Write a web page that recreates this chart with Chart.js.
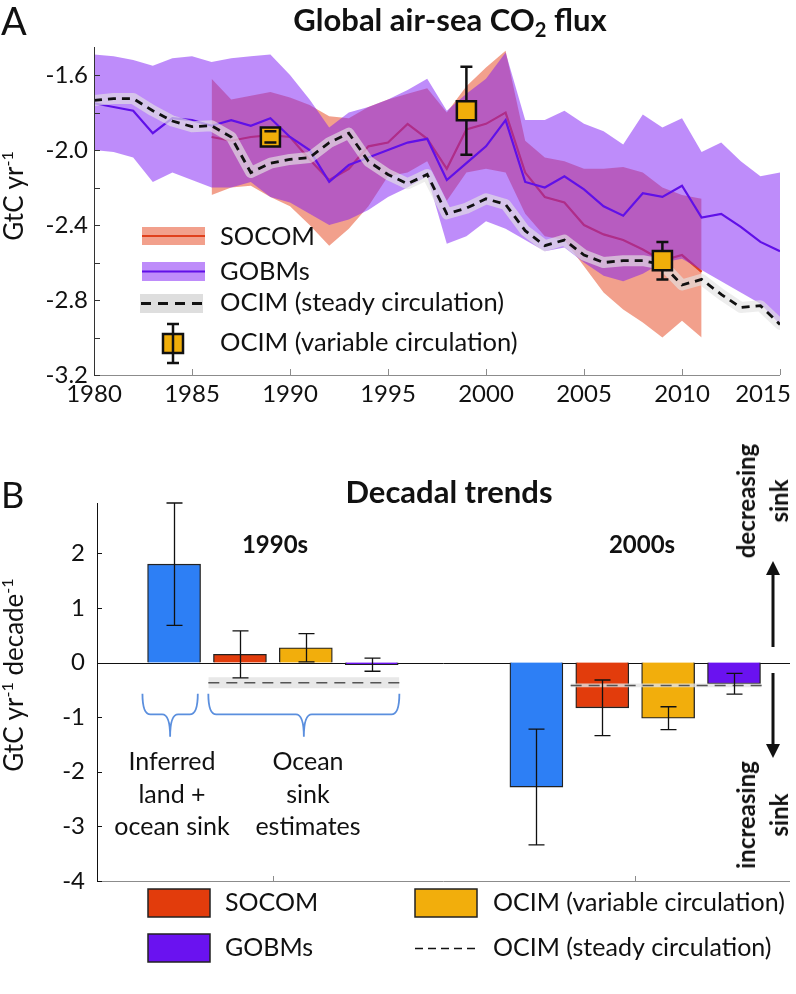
<!DOCTYPE html>
<html>
<head>
<meta charset="utf-8">
<script src="https://cdn.jsdelivr.net/npm/chart.js@4.4.1/dist/chart.umd.min.js"></script>
<style>
  html, body { margin: 0; padding: 0; background: #fff; overflow: hidden; }
  body { width: 796px; height: 994px; position: relative; font-family: Lato, "Open Sans", sans-serif; color: #111; }
  canvas { position: absolute; left: 0; }
  .t { position: absolute; white-space: nowrap; line-height: 1; }
  .rot { position: absolute; white-space: nowrap; line-height: 1; transform: translate(-50%, -50%) rotate(-90deg); }
  sub { font-size: 65%; vertical-align: -0.28em; line-height: 0; }
  sup { font-size: 62%; vertical-align: 0.6em; line-height: 0; }
</style>
</head>
<body>
<canvas id="chartA" width="796" height="410" style="top:0"></canvas>
<canvas id="chartB" width="796" height="574" style="top:420px"></canvas>

<div class="t" style="left:1px;top:1px;font-size:38px">A</div>
<div class="t" style="left:250px;width:400px;text-align:center;top:4px;font-size:31px;font-weight:bold">Global air-sea CO<sub>2</sub> flux</div>
<div class="rot" style="left:13px;top:196px;font-size:26px">GtC yr<sup>-1</sup></div>

<div class="t" style="left:1px;top:476px;font-size:36px">B</div>
<div class="t" style="left:249px;width:400px;text-align:center;top:476px;font-size:31px;font-weight:bold">Decadal trends</div>
<div class="t" style="left:175px;width:200px;text-align:center;top:532px;font-size:24px;font-weight:bold">1990s</div>
<div class="t" style="left:542px;width:200px;text-align:center;top:532px;font-size:24px;font-weight:bold">2000s</div>
<div class="rot" style="left:13px;top:675px;font-size:26px">GtC yr<sup>-1</sup> decade<sup>-1</sup></div>
<div class="rot" style="left:762px;top:501px;font-size:24px;font-weight:bold;line-height:33px;text-align:center">decreasing<br>sink</div>
<div class="rot" style="left:762px;top:815px;font-size:24px;font-weight:bold;line-height:33px;text-align:center">increasing<br>sink</div>
<div class="t" style="left:72px;width:200px;text-align:center;top:744px;font-size:25px;line-height:32.5px">Inferred<br>land +<br>ocean sink</div>
<div class="t" style="left:208px;width:200px;text-align:center;top:744px;font-size:25px;line-height:32.5px">Ocean<br>sink<br>estimates</div>

<script>
// ---------- Panel A: global air-sea CO2 flux (GtC/yr) ----------
const years = [1980, 1981, 1982, 1983, 1984, 1985, 1986, 1987, 1988, 1989,
               1990, 1991, 1992, 1993, 1994, 1995, 1996, 1997, 1998, 1999,
               2000, 2001, 2002, 2003, 2004, 2005, 2006, 2007, 2008, 2009,
               2010, 2011, 2012, 2013, 2014, 2015];
const gobmMean = [-1.75, -1.77, -1.79, -1.91, -1.83, -1.84, -1.87, -1.84, -1.87, -1.83,
                  -1.93, -2.00, -2.17, -2.08, -2.04, -2.00, -1.96, -1.94, -2.16, -2.07,
                  -1.98, -1.84, -2.17, -2.20, -2.14, -2.21, -2.30, -2.35, -2.23, -2.25,
                  -2.19, -2.36, -2.34, -2.41, -2.49, -2.54];
const gobmUpper = [-1.49, -1.50, -1.52, -1.55, -1.51, -1.50, -1.53, -1.51, -1.50, -1.49,
                   -1.60, -1.73, -1.88, -1.80, -1.77, -1.73, -1.68, -1.62, -1.79, -1.70,
                   -1.62, -1.48, -1.84, -1.84, -1.79, -1.86, -1.90, -1.97, -1.81, -1.88,
                   -1.83, -2.01, -1.96, -2.06, -2.14, -2.12];
const gobmLower = [-2.00, -2.01, -2.04, -2.17, -2.12, -2.16, -2.20, -2.20, -2.17, -2.25,
                   -2.28, -2.34, -2.40, -2.37, -2.32, -2.25, -2.20, -2.14, -2.50, -2.46,
                   -2.38, -2.42, -2.48, -2.54, -2.52, -2.60, -2.67, -2.70, -2.66, -2.60,
                   -2.58, -2.64, -2.70, -2.76, -2.82, -2.93];
const socomYears = [1986, 1987, 1988, 1989, 1990, 1991, 1992, 1993, 1994, 1995,
                    1996, 1997, 1998, 1999, 2000, 2001, 2002, 2003, 2004, 2005,
                    2006, 2007, 2008, 2009, 2010, 2011];
const socomMean = [-1.93, -1.95, -1.93, -1.92, -1.93, -2.05, -2.16, -2.10, -1.98, -1.96,
                   -1.86, -1.94, -2.10, -1.89, -1.86, -1.80, -2.12, -2.25, -2.28, -2.40,
                   -2.45, -2.48, -2.53, -2.59, -2.56, -2.65];
const socomUpper = [-1.62, -1.73, -1.71, -1.69, -1.72, -1.76, -1.82, -1.83, -1.77, -1.73,
                    -1.70, -1.67, -1.80, -1.66, -1.56, -1.47, -1.95, -2.04, -2.06, -2.10,
                    -2.10, -2.09, -2.12, -2.20, -2.24, -2.26];
const socomLower = [-2.24, -2.20, -2.19, -2.25, -2.30, -2.40, -2.51, -2.42, -2.30, -2.14,
                    -2.12, -2.06, -2.27, -2.12, -2.10, -2.12, -2.34, -2.46, -2.48, -2.62,
                    -2.76, -2.85, -2.92, -3.00, -2.91, -3.00];
const ocimSteady = [-1.735, -1.725, -1.725, -1.79, -1.845, -1.875, -1.87, -1.93, -2.12, -2.07,
                    -2.05, -2.04, -1.96, -1.91, -2.06, -2.13, -2.18, -2.13, -2.34, -2.31,
                    -2.26, -2.29, -2.43, -2.51, -2.48, -2.56, -2.60, -2.59, -2.59, -2.61,
                    -2.72, -2.69, -2.77, -2.84, -2.83, -2.93];
const ocimVarYears = [1989, 1999, 2009];
const ocimVarFlux = [-1.93, -1.79, -2.59];
const ocimVarErr = [0.03, 0.235, 0.10];
const fluxTicks = [-3.2, -3.0, -2.8, -2.6, -2.4, -2.2, -2.0, -1.8, -1.6];
const fluxLabels = [-3.2, -2.8, -2.4, -2.0, -1.6];
const yearTicks = [1980, 1985, 1990, 1995, 2000, 2005, 2010, 2015];

// ---------- Panel B: decadal trends (GtC/yr per decade) ----------
const decades = ['1990s', '2000s'];
const inferredTrend = [1.80, -2.28];
const inferredErr = [1.12, 1.06];
const socomTrend = [0.15, -0.83];
const socomErr = [0.43, 0.51];
const ocimVarTrend = [0.27, -1.02];
const ocimVarTrendErr = [0.26, 0.21];
const gobmTrend = [-0.04, -0.39];
const gobmErr = [0.12, 0.19];
const ocimSteadyTrend = [-0.37, -0.42];
const ocimSteadyErr = [0.10, 0.035];
const trendTicks = [-4, -3, -2, -1, 0, 1, 2];

const FONT = 'Lato';
const pts = (xs, ys) => xs.map((x, i) => ({ x: x, y: ys[i] }));
const clear = 'rgba(0,0,0,0)';

// inward ticks, axis lines and year labels for panel A
const axesA = {
  id: 'axesA',
  afterDraw(chart) {
    const { ctx, chartArea: a, scales: { x, y } } = chart;
    ctx.save();
    ctx.lineWidth = 1;
    ctx.strokeStyle = '#8c8c8c';
    ctx.beginPath();
    ctx.moveTo(a.left, a.bottom + 0.5); ctx.lineTo(a.right, a.bottom + 0.5);
    yearTicks.forEach(v => {
      const px = Math.round(x.getPixelForValue(v)) + 0.5;
      ctx.moveTo(px, a.bottom); ctx.lineTo(px, a.bottom - 6);
    });
    ctx.stroke();
    ctx.strokeStyle = '#333';
    ctx.beginPath();
    ctx.moveTo(a.left + 0.5, a.top); ctx.lineTo(a.left + 0.5, a.bottom);
    fluxTicks.forEach(v => {
      const py = Math.round(y.getPixelForValue(v)) + 0.5;
      ctx.moveTo(a.left, py); ctx.lineTo(a.left + 6, py);
    });
    ctx.stroke();
    ctx.fillStyle = '#111';
    ctx.font = '24px ' + FONT;
    ctx.textAlign = 'center';
    ctx.textBaseline = 'alphabetic';
    yearTicks.forEach(v => {
      const px = Math.min(x.getPixelForValue(v), chart.width - 33);
      ctx.fillText(String(v), px, 402);
    });
    ctx.restore();
  }
};

// error bars on the OCIM variable-circulation squares
const errA = {
  id: 'errA',
  afterDatasetsDraw(chart) {
    const { ctx, scales: { x, y } } = chart;
    ctx.save();
    ctx.strokeStyle = '#111';
    ctx.lineWidth = 2.5;
    ocimVarYears.forEach((yr, i) => {
      const px = x.getPixelForValue(yr);
      const c = y.getPixelForValue(ocimVarFlux[i]);
      const top = y.getPixelForValue(ocimVarFlux[i] + ocimVarErr[i]);
      const bot = y.getPixelForValue(ocimVarFlux[i] - ocimVarErr[i]);
      const h = 9.5;
      ctx.beginPath();
      if (top < c - h) { ctx.moveTo(px, top); ctx.lineTo(px, c - h); }
      if (bot > c + h) { ctx.moveTo(px, c + h); ctx.lineTo(px, bot); }
      ctx.moveTo(px - 6, top); ctx.lineTo(px + 6, top);
      ctx.moveTo(px - 6, bot); ctx.lineTo(px + 6, bot);
      ctx.stroke();
    });
    ctx.restore();
  }
};

// legend for panel A
const legendA = {
  id: 'legendA',
  afterDraw(chart) {
    const ctx = chart.ctx;
    ctx.save();
    ctx.fillStyle = 'rgba(229,65,25,0.5)';
    ctx.fillRect(142, 227, 63, 18);
    ctx.fillStyle = 'rgba(125,25,245,0.5)';
    ctx.fillRect(142, 262, 63, 19);
    ctx.fillStyle = 'rgb(222,222,222)';
    ctx.fillRect(140, 294, 63, 19);
    ctx.lineWidth = 2;
    ctx.strokeStyle = '#e0401c';
    ctx.beginPath(); ctx.moveTo(142, 236); ctx.lineTo(205, 236); ctx.stroke();
    ctx.strokeStyle = '#6010e8';
    ctx.beginPath(); ctx.moveTo(142, 271.5); ctx.lineTo(205, 271.5); ctx.stroke();
    ctx.strokeStyle = '#111';
    ctx.lineWidth = 3;
    ctx.setLineDash([10, 7]);
    ctx.beginPath(); ctx.moveTo(141, 303.5); ctx.lineTo(203, 303.5); ctx.stroke();
    ctx.setLineDash([]);
    ctx.lineWidth = 2.5;
    ctx.fillStyle = '#f0ae0a';
    ctx.fillRect(163, 334, 20, 19);
    ctx.strokeRect(163, 334, 20, 19);
    ctx.beginPath();
    ctx.moveTo(173, 324); ctx.lineTo(173, 363);
    ctx.moveTo(167, 324); ctx.lineTo(179, 324);
    ctx.moveTo(167, 363); ctx.lineTo(179, 363);
    ctx.stroke();
    ctx.fillStyle = '#111';
    ctx.font = '25.5px ' + FONT;
    ctx.textBaseline = 'alphabetic';
    ctx.fillText('SOCOM', 220, 245);
    ctx.fillText('GOBMs', 220, 280);
    ctx.fillText('OCIM (steady circulation)', 220, 311);
    ctx.fillText('OCIM (variable circulation)', 220, 351);
    ctx.restore();
  }
};

new Chart(document.getElementById('chartA'), {
  type: 'line',
  data: {
    datasets: [
      { label: 'OCIM (variable circulation)', data: pts(ocimVarYears, ocimVarFlux), showLine: false,
        pointStyle: 'rect', pointRadius: 13.5, pointBackgroundColor: '#f0ae0a',
        pointBorderColor: '#111', pointBorderWidth: 2.5, order: 0 },
      { label: 'OCIM (steady circulation)', data: pts(years, ocimSteady), borderColor: '#111',
        borderWidth: 2.8, borderDash: [8, 6], order: 1 },
      { label: 'OCIM halo', data: pts(years, ocimSteady), borderColor: 'rgba(228,228,228,0.65)',
        borderWidth: 11, borderJoinStyle: 'round', borderCapStyle: 'round', order: 2 },
      { label: 'GOBMs', data: pts(years, gobmMean), borderColor: '#6010e8', borderWidth: 2.2, order: 3 },
      { label: 'GOBMs upper', data: pts(years, gobmUpper), borderColor: clear, borderWidth: 0,
        fill: 5, backgroundColor: 'rgba(125,25,245,0.5)', order: 4 },
      { label: 'GOBMs lower', data: pts(years, gobmLower), borderColor: clear, borderWidth: 0, order: 5 },
      { label: 'SOCOM', data: pts(socomYears, socomMean), borderColor: '#e0401c', borderWidth: 2.2, order: 6 },
      { label: 'SOCOM upper', data: pts(socomYears, socomUpper), borderColor: clear, borderWidth: 0,
        fill: 8, backgroundColor: 'rgba(229,65,25,0.5)', order: 7 },
      { label: 'SOCOM lower', data: pts(socomYears, socomLower), borderColor: clear, borderWidth: 0, order: 8 }
    ]
  },
  options: {
    responsive: false,
    animation: false,
    devicePixelRatio: 1,
    layout: { padding: { left: 0, top: 47, right: 14, bottom: 0 } },
    elements: { point: { radius: 0 }, line: { tension: 0 } },
    plugins: { legend: { display: false }, tooltip: { enabled: false } },
    scales: {
      x: {
        type: 'linear', min: 1980, max: 2015,
        grid: { display: false, drawTicks: false }, border: { display: false },
        ticks: { display: false },
        afterBuildTicks: s => { s.ticks = yearTicks.map(v => ({ value: v })); },
        afterFit: s => { s.height = 35; }
      },
      y: {
        min: -3.2, max: -1.45,
        grid: { display: false, drawTicks: false }, border: { display: false },
        ticks: { padding: 6, color: '#111', font: { family: FONT, size: 24 },
                 callback: v => (fluxLabels.includes(v) ? v.toFixed(1) : '') },
        afterBuildTicks: s => { s.ticks = fluxTicks.map(v => ({ value: v })); },
        afterFit: s => { s.width = 94; }
      }
    }
  },
  plugins: [axesA, errA, legendA]
});

// ---------- Panel B ----------
const groupCenter = [2.5, 8];
const slotX = (g, k) => groupCenter[g] + k - 1.5;
const barSeries = [
  { label: 'Inferred land + ocean sink', vals: inferredTrend, err: inferredErr, color: '#2d7ff5' },
  { label: 'SOCOM', vals: socomTrend, err: socomErr, color: '#e23c0c' },
  { label: 'OCIM (variable circulation)', vals: ocimVarTrend, err: ocimVarTrendErr, color: '#f2ae0c' },
  { label: 'GOBMs', vals: gobmTrend, err: gobmErr, color: '#6a12f0' }
];

const datasetsB = barSeries.map((s, k) => ({
  type: 'bar', label: s.label,
  data: decades.map((d, g) => ({ x: slotX(g, k), y: s.vals[g] })),
  backgroundColor: s.color, borderColor: '#222', borderWidth: 1.3,
  barThickness: 53, grouped: false, order: 10
}));
decades.forEach((d, g) => {
  const x0 = slotX(g, 1) - 0.48, x1 = slotX(g, 3) + 0.42;
  const v = ocimSteadyTrend[g], e = ocimSteadyErr[g];
  const base = datasetsB.length;
  datasetsB.push(
    { type: 'line', label: 'steady band ' + d, data: [{ x: x0, y: v + e }, { x: x1, y: v + e }],
      borderColor: clear, borderWidth: 0, pointRadius: 0, fill: base + 1,
      backgroundColor: 'rgba(226,226,226,0.8)', order: 3 },
    { type: 'line', label: 'steady band low ' + d, data: [{ x: x0, y: v - e }, { x: x1, y: v - e }],
      borderColor: clear, borderWidth: 0, pointRadius: 0, order: 4 },
    { type: 'line', label: 'OCIM (steady circulation) ' + d, data: [{ x: x0, y: v }, { x: x1, y: v }],
      borderColor: '#555', borderWidth: 1.6, borderDash: [11, 7], pointRadius: 0, order: 2 }
  );
});

const drawBrace = (ctx, x0, x1, yTop, yMid, yTip, r) => {
  const xm = (x0 + x1) / 2;
  ctx.beginPath();
  ctx.moveTo(x0, yTop);
  ctx.quadraticCurveTo(x0, yMid, x0 + r, yMid);
  ctx.lineTo(xm - r, yMid);
  ctx.quadraticCurveTo(xm, yMid, xm, yTip);
  ctx.moveTo(x1, yTop);
  ctx.quadraticCurveTo(x1, yMid, x1 - r, yMid);
  ctx.lineTo(xm + r, yMid);
  ctx.quadraticCurveTo(xm, yMid, xm, yTip);
  ctx.stroke();
};

const zeroB = {
  id: 'zeroB',
  beforeDatasetsDraw(chart) {
    const { ctx, chartArea: a, scales: { y } } = chart;
    const py = Math.round(y.getPixelForValue(0)) + 0.5;
    ctx.save();
    ctx.strokeStyle = '#111';
    ctx.lineWidth = 1;
    ctx.beginPath(); ctx.moveTo(a.left, py); ctx.lineTo(a.right, py); ctx.stroke();
    ctx.restore();
  }
};

const errB = {
  id: 'errB',
  afterDatasetsDraw(chart) {
    const { ctx, scales: { x, y } } = chart;
    ctx.save();
    ctx.strokeStyle = '#111';
    ctx.lineWidth = 1.3;
    barSeries.forEach((s, k) => {
      decades.forEach((d, g) => {
        const px = Math.round(x.getPixelForValue(slotX(g, k))) + 0.5;
        const top = y.getPixelForValue(s.vals[g] + s.err[g]);
        const bot = y.getPixelForValue(s.vals[g] - s.err[g]);
        ctx.beginPath();
        ctx.moveTo(px, top); ctx.lineTo(px, bot);
        ctx.moveTo(px - 8, top); ctx.lineTo(px + 8, top);
        ctx.moveTo(px - 8, bot); ctx.lineTo(px + 8, bot);
        ctx.stroke();
      });
    });
    ctx.restore();
  }
};

const decorB = {
  id: 'decorB',
  afterDraw(chart) {
    const { ctx, chartArea: a, scales: { x, y } } = chart;
    ctx.save();
    // axes
    ctx.lineWidth = 1;
    ctx.strokeStyle = '#8c8c8c';
    ctx.beginPath();
    ctx.moveTo(a.left, a.bottom + 0.5); ctx.lineTo(a.right, a.bottom + 0.5);
    groupCenter.forEach(c => {
      const px = Math.round(x.getPixelForValue(c)) + 0.5;
      ctx.moveTo(px, a.bottom); ctx.lineTo(px, a.bottom - 5);
    });
    ctx.stroke();
    ctx.strokeStyle = '#111';
    ctx.beginPath();
    ctx.moveTo(a.left + 0.5, a.top); ctx.lineTo(a.left + 0.5, a.bottom);
    trendTicks.forEach(v => {
      const py = Math.round(y.getPixelForValue(v)) + 0.5;
      ctx.moveTo(a.left, py); ctx.lineTo(a.left + 5, py);
    });
    ctx.stroke();
    // braces
    ctx.strokeStyle = '#5b8fde';
    ctx.lineWidth = 1.8;
    const yTop = y.getPixelForValue(-0.57), yMid = y.getPixelForValue(-0.95), yTip = y.getPixelForValue(-1.36);
    drawBrace(ctx, x.getPixelForValue(slotX(0, 0) - 0.48), x.getPixelForValue(slotX(0, 0) + 0.36), yTop, yMid, yTip, 8);
    drawBrace(ctx, x.getPixelForValue(slotX(0, 1) - 0.48), x.getPixelForValue(slotX(0, 3) + 0.42), yTop, yMid, yTip, 8);
    // arrows
    ctx.strokeStyle = '#111';
    ctx.fillStyle = '#111';
    ctx.lineWidth = 3;
    const ax = 773;
    ctx.beginPath(); ctx.moveTo(ax, 227); ctx.lineTo(ax, 152); ctx.stroke();
    ctx.beginPath(); ctx.moveTo(ax, 141); ctx.lineTo(ax - 7, 155); ctx.lineTo(ax + 7, 155); ctx.closePath(); ctx.fill();
    ctx.beginPath(); ctx.moveTo(ax, 253); ctx.lineTo(ax, 326); ctx.stroke();
    ctx.beginPath(); ctx.moveTo(ax, 338); ctx.lineTo(ax - 7, 324); ctx.lineTo(ax + 7, 324); ctx.closePath(); ctx.fill();
    // legend
    const rows = [483, 528];
    const box = (bx, by, color) => {
      ctx.fillStyle = color;
      ctx.fillRect(bx, by - 14, 62, 28);
      ctx.lineWidth = 1.5;
      ctx.strokeStyle = '#222';
      ctx.strokeRect(bx, by - 14, 62, 28);
    };
    box(148, rows[0], barSeries[1].color);
    box(148, rows[1], barSeries[3].color);
    box(415, rows[0], barSeries[2].color);
    ctx.strokeStyle = '#111';
    ctx.lineWidth = 1.5;
    ctx.setLineDash([8, 5]);
    ctx.beginPath(); ctx.moveTo(415, rows[1] + 0.5); ctx.lineTo(478, rows[1] + 0.5); ctx.stroke();
    ctx.setLineDash([]);
    ctx.fillStyle = '#111';
    ctx.font = '25px ' + FONT;
    ctx.textBaseline = 'middle';
    ctx.fillText('SOCOM', 225, rows[0]);
    ctx.fillText('GOBMs', 225, rows[1]);
    ctx.fillText('OCIM (variable circulation)', 493, rows[0]);
    ctx.fillText('OCIM (steady circulation)', 493, rows[1]);
    ctx.restore();
  }
};

new Chart(document.getElementById('chartB'), {
  type: 'bar',
  data: { datasets: datasetsB },
  options: {
    responsive: false,
    animation: false,
    devicePixelRatio: 1,
    layout: { padding: { left: 0, top: 83, right: 6, bottom: 0 } },
    plugins: { legend: { display: false }, tooltip: { enabled: false } },
    elements: { line: { tension: 0 } },
    scales: {
      x: {
        type: 'linear', min: -0.17, max: 10.35, offset: false,
        grid: { display: false, drawTicks: false }, border: { display: false },
        ticks: { display: false },
        afterFit: s => { s.height = 113; }
      },
      y: {
        min: -4, max: 2.92,
        grid: { display: false, drawTicks: false }, border: { display: false },
        ticks: { padding: 12, color: '#111', font: { family: FONT, size: 24 }, callback: v => String(v) },
        afterBuildTicks: s => { s.ticks = trendTicks.map(v => ({ value: v })); },
        afterFit: s => { s.width = 97; }
      }
    }
  },
  plugins: [zeroB, errB, decorB]
});
</script>
</body>
</html>
